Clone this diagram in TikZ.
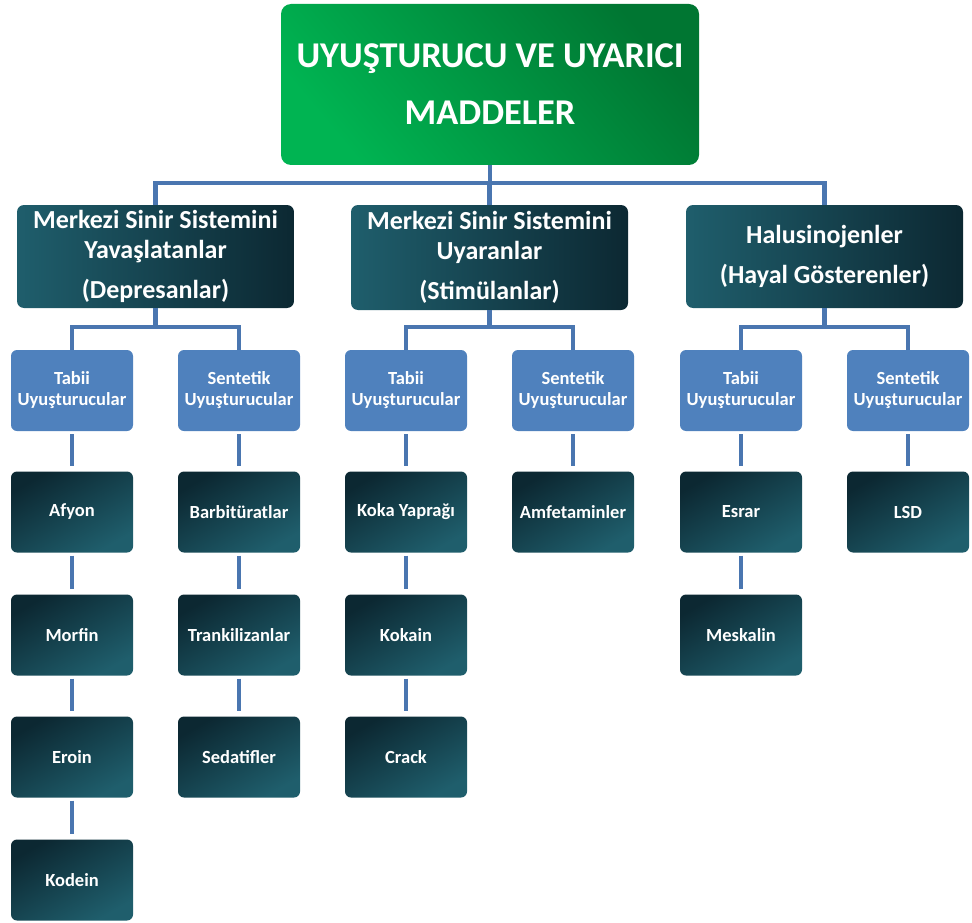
\documentclass[tikz,border=0pt]{standalone}
\usepackage{fontspec}
\setmainfont{Carlito}
\definecolor{grnD}{RGB}{0,118,50}
\definecolor{grnL}{RGB}{0,180,82}
\definecolor{tealD}{RGB}{12,40,50}
\definecolor{tealL}{RGB}{31,94,108}
\definecolor{boxblue}{RGB}{79,129,189}
\definecolor{linkblue}{RGB}{74,118,176}
\begin{document}
\begin{tikzpicture}[x=1pt,y=-1pt,
	title/.style={rounded corners=10pt, top color=grnD, bottom color=grnL, shading angle=-50, text=white, align=center, inner sep=0pt, minimum width=418pt, minimum height=161pt, font=\fontsize{36.3}{57}\selectfont\bfseries},
	group/.style={rounded corners=7pt, left color=tealL, right color=tealD, text=white, align=center, inner sep=0pt, minimum width=277pt, minimum height=103pt, font=\fontsize{26}{30}\selectfont\bfseries},
	kind/.style={rounded corners=6pt, fill=boxblue, text=white, align=center, inner sep=0pt, minimum width=122pt, minimum height=81pt, font=\fontsize{18.5}{21}\selectfont\bfseries},
	drug/.style={rounded corners=6pt, top color=tealD, bottom color=tealL, shading angle=30, text=white, align=center, inner sep=0pt, minimum width=122pt, minimum height=81pt, font=\fontsize{18.5}{21}\selectfont\bfseries},
	link/.style={draw=linkblue, line width=4.5pt},
	stem/.style={link, shorten <=3pt, shorten >=5pt}]
		
		\useasboundingbox (0,0) rectangle (972,923);
		
		\node[title] (top) at (490,84.5) {UYUŞTURUCU VE UYARICI\\MADDELER};
		
		\node[group] (dep) at (155.5,256.5) {Merkezi Sinir Sistemini\\Yavaşlatanlar\\[10pt](Depresanlar)};
		\node[group, minimum height=105pt] (sti) at (489.5,257.5) {Merkezi Sinir Sistemini\\Uyaranlar\\[10pt](Stimülanlar)};
		\node[group] (hal) at (824.5,256.5) {Halusinojenler\\[10pt](Hayal Gösterenler)};
		
		\coordinate (hub) at (490,183);
		\draw[link]  (top) -- (hub);
		\draw[link]  (hub) -| (dep);
		\draw[link]  (hub) -| (sti);
		\draw[link]  (hub) -| (hal);
		
		\node[kind] (depT) at (72,390.5) {Tabii\\Uyuşturucular};
		\node[kind] (depS) at (239,390.5) {Sentetik\\Uyuşturucular};
		\node[kind] (stiT) at (406,390.5) {Tabii\\Uyuşturucular};
		\node[kind] (stiS) at (573,390.5) {Sentetik\\Uyuşturucular};
		\node[kind] (halT) at (741,390.5) {Tabii\\Uyuşturucular};
		\node[kind] (halS) at (908,390.5) {Sentetik\\Uyuşturucular};
		
		\coordinate (depHub) at (155.5,327);
		\coordinate (stiHub) at (489.5,327);
		\coordinate (halHub) at (824.5,327);
		\draw[link]  (dep) -- (depHub);
		\draw[link]  (depHub) -| (depT);
		\draw[link]  (depHub) -| (depS);
		\draw[link]  (sti) -- (stiHub);
		\draw[link]  (stiHub) -| (stiT);
		\draw[link]  (stiHub) -| (stiS);
		\draw[link]  (hal) -- (halHub);
		\draw[link]  (halHub) -| (halT);
		\draw[link]  (halHub) -| (halS);
		
		\node[drug] (afyon) at (72,512) {Afyon};
		\node[drug] (morfin) at (72,635) {Morfin};
		\node[drug] (eroin) at (72,757) {Eroin};
		\node[drug] (kodein) at (72,880) {Kodein};
		\draw[stem]  (depT) -- (afyon);
		\draw[stem]  (afyon) -- (morfin);
		\draw[stem]  (morfin) -- (eroin);
		\draw[stem]  (eroin) -- (kodein);
		
		\node[drug] (barb) at (239,512) {Barbitüratlar};
		\node[drug] (trank) at (239,635) {Trankilizanlar};
		\node[drug] (sedat) at (239,757) {Sedatifler};
		\draw[stem]  (depS) -- (barb);
		\draw[stem]  (barb) -- (trank);
		\draw[stem]  (trank) -- (sedat);
		
		\node[drug] (koka) at (406,512) {Koka Yaprağı};
		\node[drug] (kokain) at (406,635) {Kokain};
		\node[drug] (crack) at (406,757) {Crack};
		\draw[stem]  (stiT) -- (koka);
		\draw[stem]  (koka) -- (kokain);
		\draw[stem]  (kokain) -- (crack);
		
		\node[drug] (amfet) at (573,512) {Amfetaminler};
		\draw[stem]  (stiS) -- (amfet);
		
		\node[drug] (esrar) at (741,512) {Esrar};
		\node[drug] (meskalin) at (741,635) {Meskalin};
		\draw[stem]  (halT) -- (esrar);
		\draw[stem]  (esrar) -- (meskalin);
		
		\node[drug] (lsd) at (908,512) {LSD};
		\draw[stem]  (halS) -- (lsd);
		
\end{tikzpicture}
\end{document}
